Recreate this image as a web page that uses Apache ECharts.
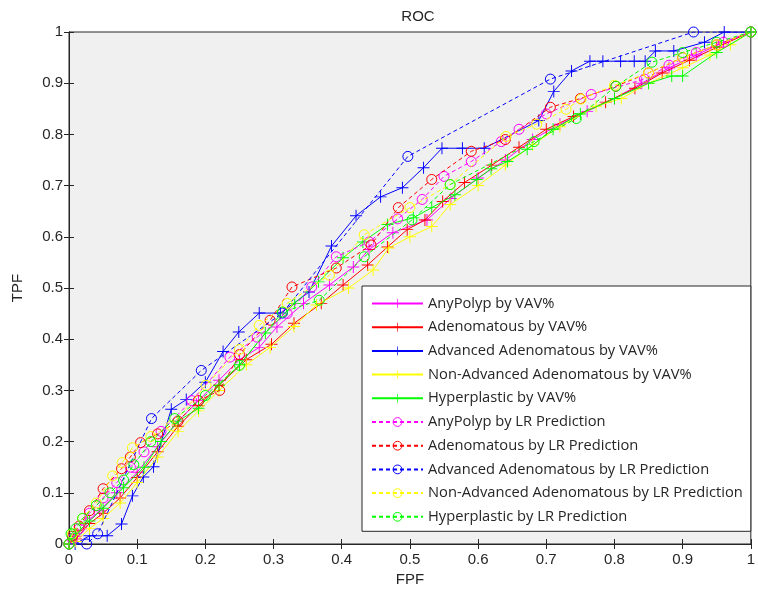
<!DOCTYPE html>
<html>
<head>
<meta charset="utf-8">
<script src="https://cdn.jsdelivr.net/npm/echarts@6/dist/echarts.min.js"></script>
<style>html,body{margin:0;padding:0;background:#fff}#c{width:758px;height:593px}</style>
</head>
<body>
<div id="c"></div>
<script>
// ---- tick labels ----
const xTickLabels = ['0','0.1','0.2','0.3','0.4','0.5','0.6','0.7','0.8','0.9','1'];
const yTickLabels = ['0','0.1','0.2','0.3','0.4','0.5','0.6','0.7','0.8','0.9','1'];

// ---- series names ----
const seriesNames = [
  'AnyPolyp by VAV%','Adenomatous by VAV%','Advanced Adenomatous by VAV%',
  'Non-Advanced Adenomatous by VAV%','Hyperplastic by VAV%',
  'AnyPolyp by LR Prediction','Adenomatous by LR Prediction','Advanced Adenomatous by LR Prediction',
  'Non-Advanced Adenomatous by LR Prediction','Hyperplastic by LR Prediction'
];

// ---- data: [FPF, TPF] ----
const anyPolypVAV = [[0,0],[0.01,0.015],[0.025,0.04],[0.045,0.065],[0.07,0.1],[0.1,0.14],[0.13,0.19],[0.16,0.24],[0.19,0.28],[0.22,0.32],[0.25,0.36],[0.279,0.384],[0.305,0.424],[0.344,0.47],[0.382,0.506],[0.417,0.541],[0.44,0.575],[0.475,0.608],[0.525,0.633],[0.56,0.675],[0.6,0.715],[0.64,0.75],[0.68,0.79],[0.72,0.82],[0.76,0.845],[0.8,0.87],[0.84,0.9],[0.88,0.93],[0.92,0.955],[0.96,0.98],[1,1]];
const adenomatousVAV = [[0,0],[0.01,0.01],[0.03,0.04],[0.05,0.06],[0.075,0.09],[0.1,0.13],[0.13,0.18],[0.16,0.23],[0.19,0.27],[0.22,0.31],[0.26,0.36],[0.297,0.39],[0.33,0.431],[0.37,0.47],[0.402,0.506],[0.438,0.545],[0.467,0.58],[0.496,0.614],[0.522,0.633],[0.548,0.669],[0.58,0.706],[0.62,0.74],[0.66,0.775],[0.7,0.81],[0.74,0.835],[0.787,0.863],[0.83,0.89],[0.87,0.92],[0.91,0.945],[0.95,0.97],[1,1]];
const advancedVAV = [[0,0],[0.009,0],[0.03,0.016],[0.056,0.016],[0.077,0.039],[0.093,0.094],[0.109,0.131],[0.124,0.151],[0.15,0.263],[0.172,0.282],[0.2,0.316],[0.226,0.376],[0.249,0.414],[0.279,0.451],[0.31,0.451],[0.352,0.492],[0.385,0.582],[0.421,0.641],[0.457,0.678],[0.489,0.696],[0.52,0.735],[0.547,0.773],[0.577,0.773],[0.609,0.773],[0.689,0.827],[0.711,0.884],[0.737,0.924],[0.764,0.943],[0.783,0.943],[0.809,0.943],[0.829,0.943],[0.845,0.943],[0.86,0.963],[0.887,0.963],[0.932,0.98],[0.961,1],[1,1]];
const nonAdvancedVAV = [[0,0],[0.01,0.005],[0.03,0.03],[0.05,0.05],[0.075,0.08],[0.1,0.12],[0.13,0.17],[0.16,0.22],[0.19,0.26],[0.22,0.3],[0.26,0.35],[0.295,0.384],[0.33,0.425],[0.363,0.467],[0.41,0.5],[0.446,0.535],[0.469,0.578],[0.5,0.6],[0.532,0.62],[0.559,0.663],[0.6,0.7],[0.64,0.74],[0.68,0.78],[0.72,0.815],[0.773,0.855],[0.81,0.87],[0.85,0.9],[0.9,0.93],[0.94,0.955],[0.97,0.975],[1,1]];
const hyperplasticVAV = [[0,0],[0.01,0.02],[0.03,0.045],[0.05,0.07],[0.08,0.11],[0.11,0.15],[0.135,0.2],[0.16,0.24],[0.19,0.265],[0.22,0.31],[0.25,0.35],[0.288,0.412],[0.331,0.47],[0.366,0.512],[0.402,0.559],[0.431,0.59],[0.467,0.624],[0.505,0.637],[0.532,0.657],[0.566,0.682],[0.598,0.712],[0.619,0.733],[0.643,0.747],[0.672,0.771],[0.71,0.81],[0.75,0.84],[0.8,0.87],[0.85,0.9],[0.884,0.914],[0.9,0.914],[0.95,0.96],[1,1]];
const anyPolypLR = [[0,0],[0.005,0.01],[0.015,0.03],[0.03,0.06],[0.05,0.09],[0.07,0.12],[0.09,0.15],[0.11,0.18],[0.135,0.22],[0.18,0.28],[0.236,0.365],[0.276,0.404],[0.32,0.45],[0.356,0.502],[0.392,0.561],[0.44,0.59],[0.482,0.635],[0.518,0.673],[0.55,0.718],[0.59,0.747],[0.634,0.786],[0.66,0.81],[0.7,0.84],[0.766,0.878],[0.844,0.908],[0.88,0.935],[0.92,0.96],[0.96,0.98],[1,1]];
const adenomatousLR = [[0,0],[0.005,0.015],[0.015,0.035],[0.03,0.065],[0.05,0.108],[0.077,0.147],[0.09,0.17],[0.105,0.198],[0.13,0.215],[0.16,0.24],[0.19,0.28],[0.221,0.3],[0.25,0.37],[0.295,0.437],[0.327,0.502],[0.392,0.539],[0.443,0.584],[0.483,0.657],[0.532,0.712],[0.59,0.767],[0.64,0.79],[0.706,0.853],[0.75,0.87],[0.802,0.894],[0.85,0.92],[0.9,0.95],[0.95,0.975],[1,1]];
const advancedLR = [[0,0],[0.026,0],[0.042,0.02],[0.121,0.245],[0.194,0.339],[0.313,0.451],[0.497,0.757],[0.706,0.908],[0.916,1],[1,1]];
const nonAdvancedLR = [[0,0],[0.005,0.02],[0.02,0.05],[0.04,0.08],[0.064,0.133],[0.078,0.159],[0.093,0.188],[0.12,0.21],[0.15,0.231],[0.201,0.31],[0.25,0.38],[0.279,0.427],[0.32,0.47],[0.382,0.525],[0.433,0.604],[0.5,0.657],[0.559,0.702],[0.641,0.796],[0.686,0.82],[0.729,0.849],[0.751,0.869],[0.8,0.896],[0.85,0.92],[0.9,0.95],[0.95,0.975],[1,1]];
const hyperplasticLR = [[0,0],[0.003,0.02],[0.01,0.03],[0.02,0.05],[0.04,0.075],[0.06,0.1],[0.08,0.125],[0.095,0.155],[0.12,0.2],[0.155,0.245],[0.2,0.29],[0.25,0.349],[0.313,0.453],[0.367,0.476],[0.433,0.561],[0.503,0.633],[0.559,0.702],[0.682,0.786],[0.744,0.831],[0.802,0.894],[0.855,0.941],[0.9,0.96],[0.95,0.98],[1,1]];

const seriesData = [anyPolypVAV, adenomatousVAV, advancedVAV, nonAdvancedVAV, hyperplasticVAV,
                    anyPolypLR, adenomatousLR, advancedLR, nonAdvancedLR, hyperplasticLR];
const colors = ['#ff00ff','#ff0000','#0000ff','#ffff00','#00ff00'];

const plusPath = 'path://M-0.08,-1 L0.08,-1 L0.08,-0.08 L1,-0.08 L1,0.08 L0.08,0.08 L0.08,1 L-0.08,1 L-0.08,0.08 L-1,0.08 L-1,-0.08 L-0.08,-0.08 Z';

const series = seriesData.map((d, i) => {
  const c = colors[i % 5];
  const isLR = i >= 5;
  return {
    name: seriesNames[i],
    type: 'line',
    data: d,
    symbol: isLR ? 'circle' : plusPath,
    symbolSize: isLR ? 10 : 12,
    showAllSymbol: true,
    animation: false,
    z: 2 + i,
    lineStyle: { color: c, width: 1, type: isLR ? [4, 3] : 'solid' },
    itemStyle: isLR ? { color: 'rgba(0,0,0,0)', borderColor: c, borderWidth: 1 }
                    : { color: c, borderWidth: 0 }
  };
});

const legendData = seriesNames.map((n, i) => ({
  name: n,
  itemStyle: i >= 5 ? { borderWidth: 1 } : { borderWidth: 0 }
}));

const axisCommon = {
  type: 'value', min: 0, max: 1, interval: 0.1,
  axisLine: { show: true, lineStyle: { color: '#262626', width: 1 } },
  axisTick: { show: true, inside: true, length: 5, lineStyle: { color: '#262626' } },
  splitLine: { show: false }
};

const chart = echarts.init(document.getElementById('c'), null, { renderer: 'canvas' });
chart.setOption({
  animation: false,
  backgroundColor: '#ffffff',
  title: {
    text: 'ROC', left: 413, top: 4, textAlign: 'center',
    textStyle: { fontFamily: 'Liberation Sans', fontSize: 15, fontWeight: 'normal', color: '#262626' }
  },
  grid: { left: 69, right: 1, top: 32, bottom: 49, show: true, backgroundColor: '#f0f0f0', borderColor: '#262626', borderWidth: 1 },
  xAxis: [
    Object.assign({}, axisCommon, {
      position: 'bottom',
      name: 'FPF', nameLocation: 'middle', nameGap: 28,
      nameTextStyle: { fontFamily: 'Liberation Sans', fontSize: 15, color: '#262626' },
      axisLabel: { fontFamily: 'Liberation Sans', fontSize: 15, color: '#262626', margin: 8,
                   formatter: v => xTickLabels[Math.round(v * 10)] }
    }),
    Object.assign({}, axisCommon, { position: 'top', axisLabel: { show: false } })
  ],
  yAxis: [
    Object.assign({}, axisCommon, {
      position: 'left',
      name: 'TPF', nameLocation: 'middle', nameGap: 44, nameRotate: 90,
      nameTextStyle: { fontFamily: 'Liberation Sans', fontSize: 15, color: '#262626' },
      axisLabel: { fontFamily: 'Liberation Sans', fontSize: 15, color: '#262626', margin: 6,
                   formatter: v => yTickLabels[Math.round(v * 10)] }
    }),
    Object.assign({}, axisCommon, { position: 'right', axisLabel: { show: false } })
  ],
  legend: {
    orient: 'vertical', left: 362, top: 286,
    data: legendData,
    itemWidth: 51, itemHeight: 11, itemGap: 8.7,
    padding: [10, 8, 7, 9],
    backgroundColor: '#ffffff', borderColor: '#262626', borderWidth: 1, borderRadius: 0,
    textStyle: { fontFamily: 'Open Sans', fontSize: 14.7, lineHeight: 14, color: '#262626' },
    selectedMode: false
  },
  series: series
});
</script>
</body>
</html>
